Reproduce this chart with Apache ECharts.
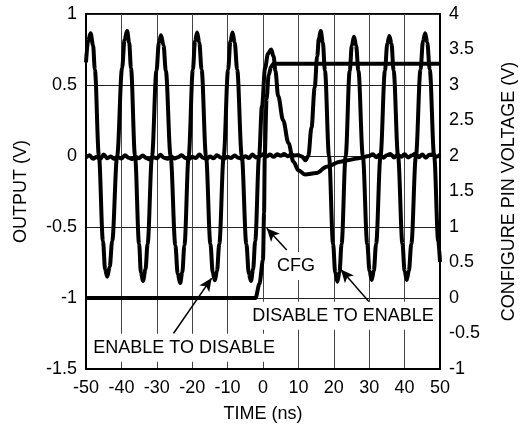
<!DOCTYPE html>
<html>
<head>
<meta charset="utf-8">
<script src="https://cdn.jsdelivr.net/npm/echarts@6/dist/echarts.min.js"></script>
<style>
html, body { margin: 0; padding: 0; background: #fff; }
#chart { width: 521px; height: 433px; }
</style>
</head>
<body>
<div id="chart"></div>
<script>
// tick values
var timeTicks = [-50, -40, -30, -20, -10, 0, 10, 20, 30, 40, 50];
var outputTicks = [-1.5, -1, -0.5, 0, 0.5, 1];
var cfgTicks = [-1, -0.5, 0, 0.5, 1, 1.5, 2, 2.5, 3, 3.5, 4];

// enable -> disable output (V), [time ns, volts]
var enableToDisable = [
  [-50, 0.66], [-49.4, 0.81], [-48.7, 0.865], [-48.0, 0.78], [-47.5, 0.61], [-46.35, 0], [-45.2, -0.6], [-44.6, -0.8],
  [-44.0, -0.85], [-43.3, -0.78], [-42.6, -0.6], [-41.2, 0], [-39.8, 0.62], [-39.1, 0.82], [-38.4, 0.88], [-37.8, 0.8],
  [-37.3, 0.62], [-36.15, 0], [-35.0, -0.62], [-34.5, -0.82], [-33.9, -0.88], [-33.2, -0.8], [-32.6, -0.62], [-31.35, 0],
  [-30.1, 0.6], [-29.4, 0.8], [-28.8, 0.85], [-28.1, 0.78], [-27.45, 0.6], [-26.1, 0], [-24.75, -0.63], [-24.1, -0.83],
  [-23.4, -0.895], [-22.8, -0.82], [-22.2, -0.63], [-21.0, 0], [-19.8, 0.61], [-19.2, 0.81], [-18.6, 0.87], [-18.0, 0.8],
  [-17.35, 0.61], [-16.1, 0], [-14.85, -0.62], [-14.2, -0.82], [-13.6, -0.875], [-13.0, -0.81], [-12.35, -0.62], [-11.1, 0],
  [-9.85, 0.61], [-9.2, 0.81], [-8.6, 0.87], [-8.0, 0.8], [-7.3, 0.61], [-6.0, 0], [-4.7, -0.62], [-4.0, -0.83],
  [-3.4, -0.88], [-2.8, -0.8], [-2.2, -0.6], [-1.1, 0], [-0.3, 0.35], [0.6, 0.62], [1.4, 0.72], [2.3, 0.75],
  [3.0, 0.7], [3.5, 0.6], [4.3, 0.42], [5.7, 0.25], [7.2, 0.09], [8.6, -0.04], [10, -0.1], [11.9, -0.13],
  [15.1, -0.12], [18, -0.075], [21.8, -0.04], [24, -0.03], [27, -0.015], [30, 0], [31, 0.012], [32, -0.008],
  [33, 0.01], [34, -0.012], [35, 0.006], [36, 0.014], [37, -0.01], [38, 0.008], [39, -0.006], [40, 0.012],
  [41, -0.01], [42, 0.004], [43, 0.015], [44, -0.008], [45, 0.01], [46, -0.012], [47, 0.008], [48, 0.012],
  [49, -0.006], [50, 0.01]
];

// disable -> enable output (V)
var disableToEnable = [
  [-50, -0.01], [-49, 0.005], [-48, -0.02], [-47, -0.005], [-46, -0.022], [-45, 0.01], [-44, -0.015], [-43, -0.004],
  [-42, -0.02], [-41, -0.008], [-40, -0.018], [-39, 0.006], [-38, -0.012], [-37, -0.022], [-36, -0.006], [-35, -0.016],
  [-34, 0.004], [-33, -0.014], [-32, -0.024], [-31, -0.008], [-30, -0.016], [-29, 0.008], [-28, -0.012], [-27, -0.02],
  [-26, -0.004], [-25, -0.018], [-24, -0.008], [-23, 0.006], [-22, -0.014], [-21, -0.022], [-20, -0.006], [-19, -0.014],
  [-18, 0.01], [-17, -0.012], [-16, -0.02], [-15, -0.004], [-14, -0.016], [-13, 0.006], [-12, -0.01], [-11, -0.02],
  [-10, -0.006], [-9, -0.014], [-8, 0.004], [-7, -0.012], [-6, -0.018], [-5, -0.002], [-4, -0.014], [-3, 0.01],
  [-2, -0.01], [-1, -0.004], [0, 0.012], [1, -0.004], [2, 0.01], [3, -0.006], [4, 0.012], [5, 0.002],
  [6, 0.014], [7, -0.002], [8, 0.01], [9, 0.004], [10, 0.006], [11, -0.004], [12, -0.03], [12.8, 0],
  [13.7, 0.2], [14.6, 0.48], [15.3, 0.7], [15.8, 0.83], [16.3, 0.88], [16.9, 0.8], [17.5, 0.6], [18.65, 0],
  [19.8, -0.62], [20.4, -0.82], [21, -0.885], [21.6, -0.82], [22.2, -0.62], [23.35, 0], [24.5, 0.6], [25.1, 0.78],
  [25.7, 0.84], [26.3, 0.78], [26.95, 0.6], [28.2, 0], [29.45, -0.62], [30.1, -0.81], [30.7, -0.873], [31.3, -0.81],
  [31.95, -0.62], [33.2, 0], [34.45, 0.6], [35.1, 0.79], [35.7, 0.845], [36.3, 0.79], [36.9, 0.6], [38.15, 0],
  [39.4, -0.62], [40.0, -0.81], [40.6, -0.873], [41.2, -0.81], [41.9, -0.62], [43.2, 0], [44.5, 0.61], [45.2, 0.81],
  [45.8, 0.865], [46.4, 0.8], [47.1, 0.61], [48.35, 0], [49.5, -0.6], [50, -0.745]
];

// configure pin voltage (right axis, V)
var cfgVoltage = [
  [-50, 0], [-2.1, 0], [-1, 0.2], [0, 0.54], [0.3, 1.2], [0.5, 2], [1.0, 2.8], [1.6, 3.14],
  [2.3, 3.26], [3, 3.3], [50, 3.3]
];

var font = 'Liberation Sans, Arial, sans-serif';
var black = '#000';

var chart = echarts.init(document.getElementById('chart'), null, { renderer: 'canvas' });

function labelPoint(text, t, v) {
  return {
    coord: [t, v],
    symbol: 'circle',
    symbolSize: 1,
    itemStyle: { color: 'rgba(0,0,0,0)' },
    label: {
      show: true,
      position: 'inside',
      formatter: text,
      color: black,
      fontFamily: font,
      fontSize: 18,
      backgroundColor: '#fff',
      padding: [5, 2]
    }
  };
}

function arrow(t1, v1, t2, v2) {
  return [
    { coord: [t1, v1], symbol: 'none' },
    { coord: [t2, v2], symbol: 'arrow', symbolSize: [9, 13] }
  ];
}

var option = {
  animation: false,
  grid: {
    left: 86, top: 14, width: 354, height: 355,
    outerBoundsMode: 'none',
    show: true, borderColor: black, borderWidth: 2, backgroundColor: '#fff'
  },
  xAxis: {
    type: 'value',
    min: timeTicks[0],
    max: timeTicks[timeTicks.length - 1],
    interval: timeTicks[1] - timeTicks[0],
    name: 'TIME (ns)',
    nameLocation: 'middle',
    nameGap: 36,
    nameTextStyle: { color: black, fontFamily: font, fontSize: 18 },
    axisLine: { show: true, onZero: false, lineStyle: { color: black, width: 2 } },
    axisTick: { show: false },
    axisLabel: { color: black, fontFamily: font, fontSize: 18, margin: 10 },
    splitLine: { show: true, lineStyle: { color: '#444', width: 1 } }
  },
  yAxis: [{
    type: 'value',
    position: 'left',
    min: outputTicks[0],
    max: outputTicks[outputTicks.length - 1],
    interval: outputTicks[1] - outputTicks[0],
    name: 'OUTPUT (V)',
    nameLocation: 'middle',
    nameRotate: 90,
    nameGap: 56,
    nameTextStyle: { color: black, fontFamily: font, fontSize: 18 },
    axisLine: { show: true, onZero: false, lineStyle: { color: black, width: 2 } },
    axisTick: { show: false },
    axisLabel: { color: black, fontFamily: font, fontSize: 18, margin: 9 },
    splitLine: { show: true, lineStyle: { color: '#222', width: 1 } }
  }, {
    type: 'value',
    position: 'right',
    min: cfgTicks[0],
    max: cfgTicks[cfgTicks.length - 1],
    interval: cfgTicks[1] - cfgTicks[0],
    name: 'CONFIGURE PIN VOLTAGE (V)',
    nameLocation: 'middle',
    nameRotate: 90,
    nameGap: 60,
    nameTextStyle: { color: black, fontFamily: font, fontSize: 18 },
    axisLine: { show: true, onZero: false, lineStyle: { color: black, width: 2 } },
    axisTick: { show: false },
    axisLabel: { color: black, fontFamily: font, fontSize: 18, margin: 9 },
    splitLine: { show: false }
  }],
  series: [{
    name: 'ENABLE TO DISABLE',
    type: 'line',
    data: enableToDisable,
    showSymbol: false,
    smooth: 0.35,
    smoothMonotone: 'x',
    lineStyle: { color: black, width: 4 },
    markLine: {
      silent: true,
      label: { show: false },
      lineStyle: { color: black, width: 1.5, type: 'solid' },
      data: [
        arrow(-25.3, -1.25, -14.5, -0.86),
        arrow(30.2, -1.033, 22.0, -0.8),
        arrow(6.7, -0.662, 1.05, -0.509)
      ]
    },
    markPoint: {
      silent: true,
      data: [
        labelPoint('ENABLE TO DISABLE', -22.3, -1.35),
        labelPoint('DISABLE TO ENABLE', 22.6, -1.125),
        labelPoint('CFG', 9.3, -0.775)
      ]
    }
  }, {
    name: 'DISABLE TO ENABLE',
    type: 'line',
    data: disableToEnable,
    showSymbol: false,
    smooth: 0.35,
    smoothMonotone: 'x',
    lineStyle: { color: black, width: 4 }
  }, {
    name: 'CFG',
    type: 'line',
    yAxisIndex: 1,
    data: cfgVoltage,
    showSymbol: false,
    smooth: 0.3,
    smoothMonotone: 'x',
    lineStyle: { color: black, width: 4 }
  }]
};

chart.setOption(option);
</script>
</body>
</html>
